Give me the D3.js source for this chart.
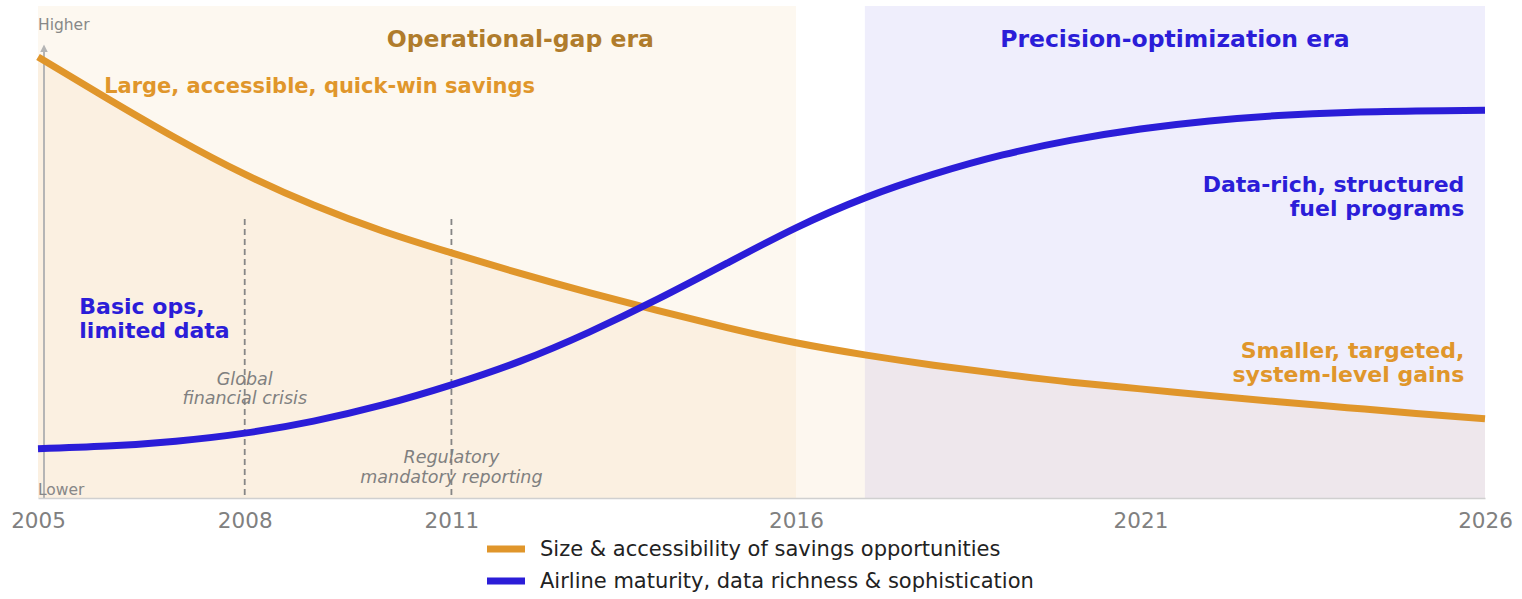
<!DOCTYPE html>
<html>
<head>
<meta charset="utf-8">
<script src="https://cdn.jsdelivr.net/npm/d3@7"></script>
<style>
  body { margin: 0; background: #fff; }
  svg { font-family: "DejaVu Sans", sans-serif; }
</style>
</head>
<body>
<div id="wrapper"></div>
<script>
// years along the x axis
const years = [2005, 2006, 2007, 2008, 2009, 2010, 2011, 2012, 2013, 2014, 2015,
               2016, 2017, 2018, 2019, 2020, 2021, 2022, 2023, 2024, 2025, 2026];
// size & accessibility of savings opportunities (relative, 0-110)
const savings = [98.6, 89.4, 80.5, 72.4, 65.5, 59.7, 54.8, 50.2, 45.9, 41.9, 38.1,
                 34.7, 32.0, 29.7, 27.7, 25.9, 24.4, 22.9, 21.5, 20.2, 18.9, 17.7];
// airline maturity, data richness & sophistication (relative, 0-110)
const maturity = [11.0, 11.6, 12.7, 14.5, 17.2, 20.8, 25.3, 30.6, 37.1, 44.5, 52.5,
                  60.4, 67.1, 72.4, 76.7, 80.0, 82.5, 84.3, 85.5, 86.2, 86.5, 86.7];
const tickYears = [2005, 2008, 2011, 2016, 2021, 2026];
const eras = [
  {name: "Operational-gap era", start: 2005, end: 2016, labelAt: 2012},
  {name: "Precision-optimization era", start: 2017, end: 2026, labelAt: 2021.5}
];
const events = [
  {year: 2008, lines: ["Global", "financial crisis"], top: 62.4, labelY: 25.3},
  {year: 2011, lines: ["Regulatory", "mandatory reporting"], top: 62.4, labelY: 7.8}
];
const seriesNames = ["Size & accessibility of savings opportunities",
                     "Airline maturity, data richness & sophistication"];

const orange = "#E0962B";
const blue = "#2B1DD8";

let dimensions = {
  width: 1522,
  height: 599,
  margin: {top: 6, left: 38, bottom: 101, right: 37}
};
dimensions.boundedWidth = dimensions.width - dimensions.margin.left - dimensions.margin.right;
dimensions.boundedHeight = dimensions.height - dimensions.margin.top - dimensions.margin.bottom;

const data = years.map((y, i) => ({year: y, savings: savings[i], maturity: maturity[i]}));

const svg = d3.select("#wrapper").append("svg")
  .attr("width", dimensions.width)
  .attr("height", dimensions.height);
const g = svg.append("g")
  .attr("transform", `translate(${dimensions.margin.left},${dimensions.margin.top})`);

const xScale = d3.scaleLinear()
  .domain([2005, 2026])
  .range([0, dimensions.boundedWidth]);
const yScale = d3.scaleLinear()
  .domain([0, 110])
  .range([dimensions.boundedHeight, 0]);

// era backgrounds
g.selectAll("rect.era")
  .data(eras)
  .enter()
  .append("rect")
  .attr("class", "era")
  .attr("x", d => xScale(d.start))
  .attr("y", 0)
  .attr("width", d => xScale(d.end) - xScale(d.start))
  .attr("height", dimensions.boundedHeight)
  .attr("fill", (d, i) => i === 0 ? orange : blue)
  .attr("fill-opacity", (d, i) => i === 0 ? 0.07 : 0.075);

// area under the savings curve
const area = d3.area()
  .x(d => xScale(d.year))
  .y0(yScale(0))
  .y1(d => yScale(d.savings))
  .curve(d3.curveNatural);
g.append("path")
  .datum(data)
  .attr("d", area)
  .attr("fill", orange)
  .attr("fill-opacity", 0.075);

// event markers
g.selectAll("line.event")
  .data(events)
  .enter()
  .append("line")
  .attr("x1", d => xScale(d.year))
  .attr("x2", d => xScale(d.year))
  .attr("y1", d => yScale(d.top))
  .attr("y2", yScale(0))
  .attr("stroke", "#868686")
  .attr("stroke-width", 1.8)
  .attr("stroke-dasharray", "6,4");

events.forEach(ev => {
  const t = g.append("text")
    .attr("x", xScale(ev.year))
    .attr("y", yScale(ev.labelY))
    .attr("text-anchor", "middle")
    .attr("font-size", 17.5)
    .attr("font-style", "italic")
    .attr("fill", "#808080");
  ev.lines.forEach((l, i) => {
    t.append("tspan").attr("x", xScale(ev.year)).attr("dy", i === 0 ? 0 : 19.5).text(l);
  });
});

// y axis arrow
svg.append("defs").append("marker")
  .attr("id", "arrow")
  .attr("viewBox", "0 0 10 10")
  .attr("refX", 5).attr("refY", 5)
  .attr("markerWidth", 4).attr("markerHeight", 4)
  .attr("orient", "auto")
  .append("path")
  .attr("d", "M0,0L10,5L0,10z")
  .attr("fill", "#b5b5b5");
g.append("line")
  .attr("x1", 6).attr("x2", 6)
  .attr("y1", yScale(0))
  .attr("y2", yScale(100.5))
  .attr("stroke", "#b5b5b5")
  .attr("stroke-width", 2)
  .attr("marker-end", "url(#arrow)");
g.append("text").attr("x", 0).attr("y", 24).attr("font-size", 15.5).attr("fill", "#888").text("Higher");
g.append("text").attr("x", 0).attr("y", yScale(0) - 3).attr("font-size", 15.5).attr("fill", "#888").text("Lower");

// lines
const lineSavings = d3.line().x(d => xScale(d.year)).y(d => yScale(d.savings)).curve(d3.curveNatural);
const lineMaturity = d3.line().x(d => xScale(d.year)).y(d => yScale(d.maturity)).curve(d3.curveNatural);
g.append("path").datum(data).attr("d", lineSavings)
  .attr("fill", "none").attr("stroke", orange).attr("stroke-width", 7);
g.append("path").datum(data).attr("d", lineMaturity)
  .attr("fill", "none").attr("stroke", blue).attr("stroke-width", 7);

// x axis
const xAxisGen = d3.axisBottom(xScale)
  .tickValues(tickYears)
  .tickFormat(d3.format("d"))
  .tickSize(0)
  .tickPadding(15);
const axisX = g.append("g")
  .attr("transform", `translate(0,${dimensions.boundedHeight})`)
  .call(xAxisGen);
axisX.select(".domain").attr("stroke", "#d0d0d0").attr("stroke-width", 1.5);
axisX.selectAll("text")
  .attr("font-family", "DejaVu Sans")
  .attr("font-size", 21.5)
  .attr("fill", "#808080");

// era titles
g.selectAll("text.era")
  .data(eras)
  .enter()
  .append("text")
  .attr("x", d => xScale(d.labelAt))
  .attr("y", 41)
  .attr("text-anchor", "middle")
  .attr("font-size", 23.5)
  .attr("font-weight", "bold")
  .attr("fill", (d, i) => i === 0 ? "#B07C2C" : blue)
  .text(d => d.name);

// curve annotations
function note(lines, x, y, anchor, color, size) {
  const t = g.append("text")
    .attr("x", x).attr("y", y)
    .attr("text-anchor", anchor)
    .attr("font-size", size)
    .attr("font-weight", "bold")
    .attr("fill", color);
  lines.forEach((l, i) => t.append("tspan").attr("x", x).attr("dy", i === 0 ? 0 : 24).text(l));
}
note(["Large, accessible, quick-win savings"], xScale(2005.96), 87, "start", orange, 21);
note(["Basic ops,", "limited data"], xScale(2005.6), 308, "start", blue, 22);
note(["Data-rich, structured", "fuel programs"], xScale(2025.7), 186, "end", blue, 22);
note(["Smaller, targeted,", "system-level gains"], xScale(2025.7), 352, "end", orange, 22);

// legend
const legend = svg.append("g").attr("transform", "translate(487,549)");
[orange, blue].forEach((c, i) => {
  legend.append("line")
    .attr("x1", 0).attr("x2", 38)
    .attr("y1", i * 32).attr("y2", i * 32)
    .attr("stroke", c).attr("stroke-width", 7);
  legend.append("text")
    .attr("x", 53).attr("y", i * 32)
    .attr("dy", "0.35em")
    .attr("font-size", 21)
    .attr("fill", "#222")
    .text(seriesNames[i]);
});
</script>
</body>
</html>
